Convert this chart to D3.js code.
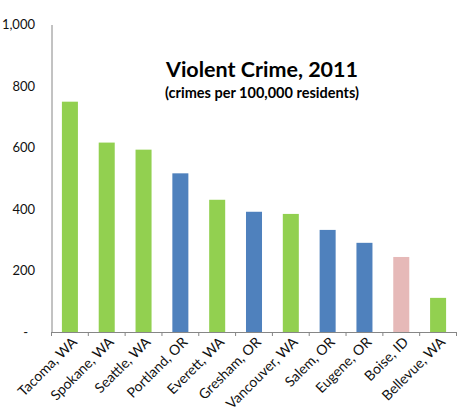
<!DOCTYPE html>
<html>
<head>
<meta charset="utf-8">
<script src="https://cdn.jsdelivr.net/npm/d3@7"></script>
<style>
  body { margin: 0; background: #fff; }
  text { font-family: Lato, "Open Sans", sans-serif; }
</style>
</head>
<body>
<svg id="chart"></svg>
<script>
// data
var cities = ["Tacoma, WA", "Spokane, WA", "Seattle, WA", "Portland, OR", "Everett, WA",
  "Gresham, OR", "Vancouver, WA", "Salem, OR", "Eugene, OR", "Boise, ID", "Bellevue, WA"];
var states = ["WA", "WA", "WA", "OR", "WA", "OR", "WA", "OR", "OR", "ID", "WA"];
var rates = [749, 616, 593, 516, 430, 391, 384, 332, 290, 244, 111];
var yTicks = [0, 200, 400, 600, 800, 1000];

var settings = {
  width: 471,
  height: 420,
  margin: { top: 24.5, bottom: 88, left: 51.5, right: 14.5 },
  colors: { WA: "#92D050", OR: "#4F81BD", ID: "#E6B9B8" },
  axisColor: "#868686"
};

var data = cities.map(function(c, i) { return { city: c, state: states[i], rate: rates[i] }; });

var svg = d3.select("#chart")
  .attr("width", settings.width)
  .attr("height", settings.height);

var plotBottom = settings.height - settings.margin.bottom;
var plotRight = settings.width - settings.margin.right;

var xScale = d3.scaleBand()
  .domain(cities)
  .range([settings.margin.left, plotRight])
  .paddingInner(0.565)
  .paddingOuter(0.2825);

var yScale = d3.scaleLinear()
  .domain([0, 1000])
  .range([plotBottom, settings.margin.top]);

// y axis (no tick marks, accounting-style dash for zero)
var yAxis = d3.axisLeft(yScale)
  .tickValues(yTicks)
  .tickSize(0)
  .tickPadding(16.5)
  .tickFormat(function(d) { return d === 0 ? "-" : d3.format(",")(d); });

var gy = svg.append("g")
  .attr("transform", "translate(" + settings.margin.left + ",0)")
  .call(yAxis);
gy.select(".domain").attr("stroke", settings.axisColor);
gy.selectAll("text").attr("font-size", 13).attr("fill", "#111");
gy.selectAll(".tick").filter(function(d) { return d === 0; }).select("text").attr("dx", -7);

// bars
svg.selectAll("rect.bar")
  .data(data)
  .enter().append("rect")
  .attr("class", "bar")
  .attr("x", function(d) { return xScale(d.city); })
  .attr("width", xScale.bandwidth())
  .attr("y", function(d) { return yScale(d.rate); })
  .attr("height", function(d) { return plotBottom - yScale(d.rate); })
  .attr("fill", function(d) { return settings.colors[d.state]; });

// x axis
var xAxis = d3.axisBottom(xScale).tickSize(0).tickSizeOuter(0);
var gx = svg.append("g")
  .attr("transform", "translate(0," + plotBottom + ")")
  .call(xAxis);
gx.select(".domain").attr("stroke", settings.axisColor);
gx.selectAll(".tick text")
  .attr("font-size", 14)
  .attr("fill", "#111")
  .attr("text-anchor", "end")
  .attr("x", 0)
  .attr("y", 0)
  .attr("dy", 0)
  .attr("transform", "translate(8,11) rotate(-45)");

// tick marks between categories
var step = xScale.step();
gx.selectAll("line.sep")
  .data(d3.range(cities.length + 1))
  .enter().append("line")
  .attr("class", "sep")
  .attr("x1", function(i) { return settings.margin.left + i * step; })
  .attr("x2", function(i) { return settings.margin.left + i * step; })
  .attr("y1", 0)
  .attr("y2", 4)
  .attr("stroke", settings.axisColor);

// title
var cx = 262;
svg.append("text")
  .attr("x", cx).attr("y", 77)
  .attr("text-anchor", "middle")
  .attr("font-size", 21.5)
  .attr("font-weight", "bold")
  .text("Violent Crime, 2011");
svg.append("text")
  .attr("x", cx).attr("y", 98)
  .attr("text-anchor", "middle")
  .attr("font-size", 14.5)
  .attr("font-weight", "bold")
  .text("(crimes per 100,000 residents)");
</script>
</body>
</html>
